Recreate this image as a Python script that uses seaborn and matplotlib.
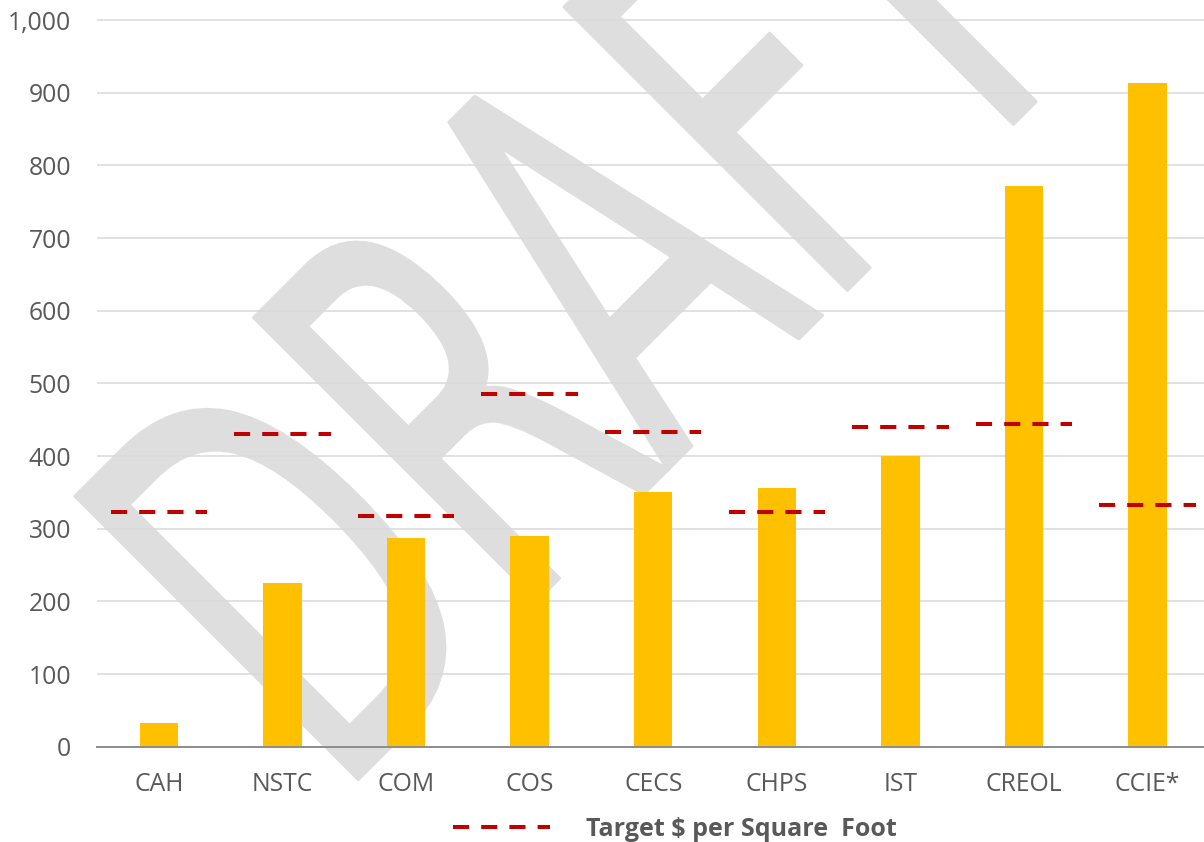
import matplotlib
matplotlib.use("Agg")
import matplotlib.pyplot as plt
import seaborn as sns
import pandas as pd
from matplotlib.textpath import TextPath
from matplotlib.patches import PathPatch
from matplotlib.font_manager import FontProperties
from matplotlib.transforms import Affine2D, IdentityTransform
from matplotlib.lines import Line2D
from matplotlib.ticker import FuncFormatter

# ---- data ----
categories = ["CAH", "NSTC", "COM", "COS", "CECS", "CHPS", "IST", "CREOL", "CCIE*"]
actual = [33, 225, 287, 290, 351, 356, 400, 772, 913]
target = [323, 431, 318, 486, 433, 323, 440, 444, 332]
y_ticks = [0, 100, 200, 300, 400, 500, 600, 700, 800, 900, 1000]
legend_label = "Target $ per Square  Foot"
watermark = "DRAFT"

# ---- style ----
BAR = "#FFC000"
TARGET = "#C00000"
TEXT = "#595959"
GRID = "#D9D9D9"

sns.set_style("white")
plt.rcParams['font.family'] = ['Open Sans', 'DejaVu Sans']

W, H = 1204, 842
fig = plt.figure(figsize=(W / 100, H / 100), dpi=100)
fig.patch.set_facecolor("white")

ax = fig.add_axes([97 / W, (H - 746.7) / H, 1112.4 / W, 730.3 / H])
ax.set_facecolor("none")

# ---- watermark (behind the axes) ----
fp = FontProperties(family="DejaVu Sans")
tp = TextPath((0, 0), watermark, size=1, prop=fp)
x0 = TextPath((0, 0), watermark[0], size=1, prop=fp).get_extents().x0
tr = (Affine2D().translate(-x0, 0).scale(328, 550).translate(-298, 0)
      .rotate_deg(45).translate(569, H - 569))
wm = PathPatch(tr.transform_path(tp), facecolor="#DEDEDE", edgecolor="#DEDEDE",
               linewidth=2, joinstyle="round", transform=IdentityTransform(), zorder=-1)
fig.add_artist(wm)

# ---- bars ----
df = pd.DataFrame({"category": categories, "actual": actual, "target": target})
sns.barplot(data=df, x="category", y="actual", order=categories, color=BAR,
            saturation=1, width=0.31, ax=ax, zorder=2, linewidth=0)

# ---- target dashes ----
for i, t in enumerate(df["target"]):
    ax.plot([i - 0.39, i + 0.39], [t, t], color=TARGET, lw=2.9,
            dashes=(4, 3), dash_capstyle="butt", solid_capstyle="butt", zorder=3)

# ---- axes formatting ----
ax.set_xlim(-0.5, len(categories) - 0.5)
ax.set_ylim(0, 1005)
ax.set_yticks(y_ticks)
ax.yaxis.set_major_formatter(FuncFormatter(lambda v, p: f"{int(v):,}"))
ax.set_xlabel("")
ax.set_ylabel("")
ax.yaxis.grid(True, color=GRID, linewidth=1.1)
ax.xaxis.grid(False)
ax.set_axisbelow(True)
for s in ["left", "right", "top"]:
    ax.spines[s].set_visible(False)
ax.spines["bottom"].set_color("#8C8C8C")
ax.spines["bottom"].set_linewidth(1.4)
ax.tick_params(axis="y", length=0, pad=18.5, labelsize=17.8, labelcolor=TEXT)
ax.tick_params(axis="x", length=0, pad=18.5, labelsize=17.8, labelcolor=TEXT)

# ---- legend ----
handle = Line2D([], [], color=TARGET, lw=2.9, dashes=(4, 3), dash_capstyle="butt")
fig.legend(handles=[handle], labels=[legend_label], loc="center",
           bbox_to_anchor=(675 / W, 1 - 829 / H), frameon=False,
           prop={"weight": "bold", "size": 18}, labelcolor=TEXT,
           handlelength=3.9, handletextpad=1.45, borderpad=0, borderaxespad=0)

fig.savefig("out.png", dpi=100, facecolor="white")
